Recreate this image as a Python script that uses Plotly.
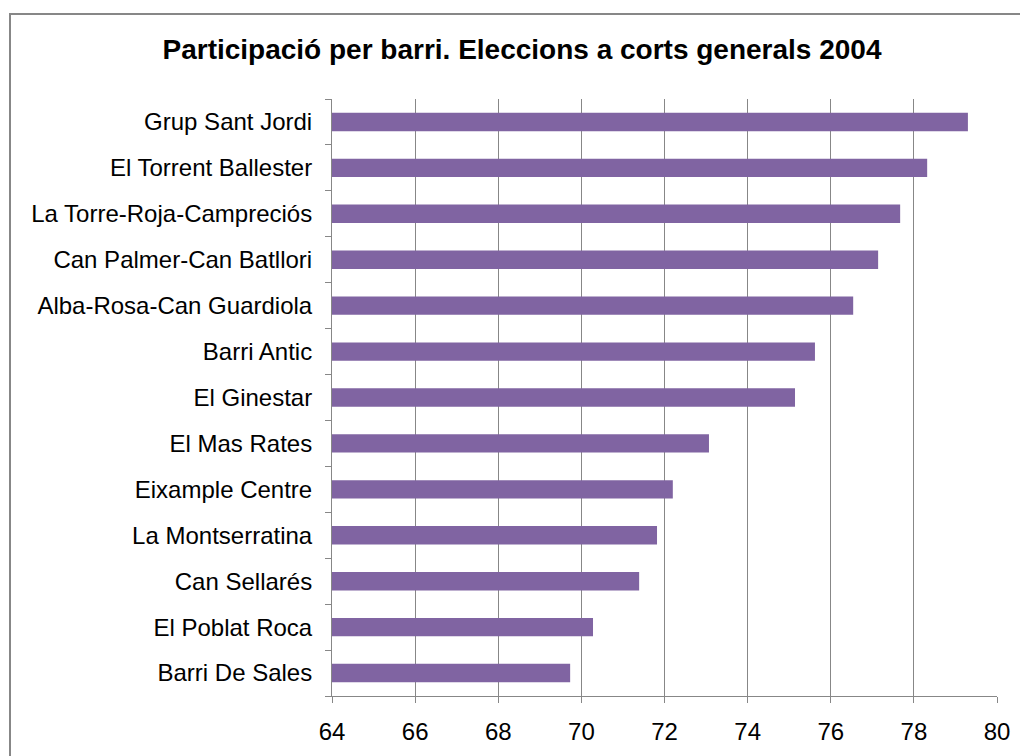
import plotly.graph_objects as go

barris = ["Grup Sant Jordi", "El Torrent Ballester", "La Torre-Roja-Campreciós",
          "Can Palmer-Can Batllori", "Alba-Rosa-Can Guardiola", "Barri Antic",
          "El Ginestar", "El Mas Rates", "Eixample Centre", "La Montserratina",
          "Can Sellarés", "El Poblat Roca", "Barri De Sales"]
participacio = [79.30, 78.32, 77.67, 77.14, 76.54, 75.62, 75.14, 73.07,
                72.20, 71.82, 71.39, 70.28, 69.73]
x_ticks = [64, 66, 68, 70, 72, 74, 76, 78, 80]

fig = go.Figure(go.Bar(
    x=participacio, y=barris, orientation="h", width=0.4,
    marker=dict(color="#8064A2", line=dict(width=0)),
))

W, H = 1028, 756
L, R, T, B = 324, 39, 91, 68
pw, ph = W - L - R, H - T - B

fig.update_layout(
    width=W, height=H,
    margin=dict(l=L, r=R, t=T, b=B),
    paper_bgcolor="white", plot_bgcolor="white",
    font=dict(family="Liberation Sans, Arial, sans-serif", size=24, color="black"),
    title=dict(text="<b>Participació per barri. Eleccions a corts generals 2004</b>",
               x=0.5, xanchor="center", y=1 - 41 / H, yanchor="middle",
               font=dict(size=28, color="black")),
    showlegend=False,
    shapes=[dict(type="rect", xref="paper", yref="paper",
                 x0=(2 - L) / pw, x1=(W + 20 - L) / pw,
                 y0=(H - B - (H + 20)) / ph, y1=(H - B - 6) / ph,
                 line=dict(color="#878787", width=2), layer="below")],
)
fig.update_xaxes(range=[64, 80], tickvals=x_ticks, ticktext=[str(v) for v in x_ticks],
                 showgrid=True, gridcolor="#878787", gridwidth=1,
                 ticks="outside", ticklen=6, tickcolor="#878787",
                 showline=True, linecolor="#878787", linewidth=1,
                 zeroline=False, tickfont=dict(size=24), ticklabelstandoff=8)
fig.update_yaxes(categoryorder="array", categoryarray=barris[::-1],
                 showline=True, linecolor="#878787", linewidth=1,
                 ticks="outside", ticklen=6, tickcolor="#878787",
                 tickson="boundaries", showgrid=False, tickfont=dict(size=24),
                 ticklabelstandoff=14)

fig.write_html("out.html")
